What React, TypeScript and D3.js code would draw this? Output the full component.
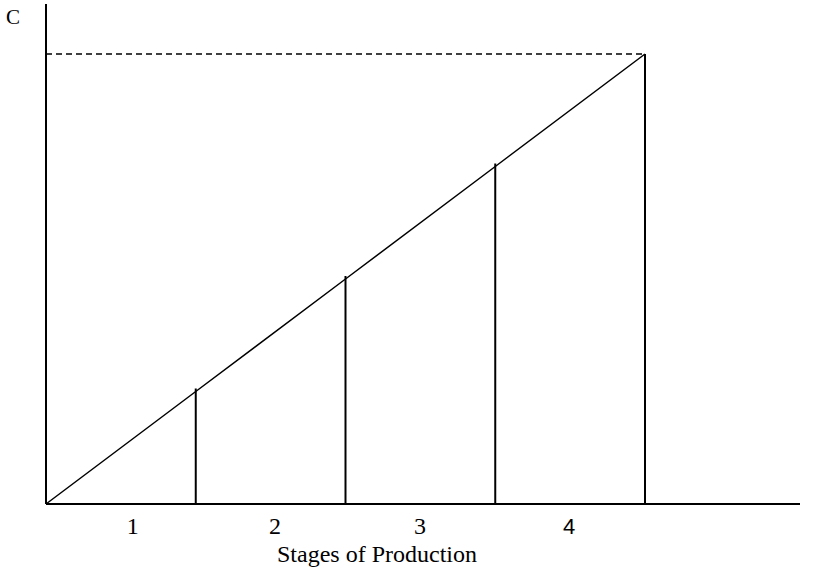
import React from "react";
import * as d3 from "d3";

const stageBoundaries = [0, 1, 2, 3, 4];
const cumulativeCost = [0, 1, 2, 3, 4];
const stageLabels = ["1", "2", "3", "4"];
const xLabel = "Stages of Production";
const yLabel = "C";

export default function App() {
  const W = 815, H = 574;
  const x = d3.scaleLinear().domain([0, 4]).range([46, 645]);
  const y = d3.scaleLinear().domain([0, 4]).range([504, 54]);
  const line = d3.line<number>().x((_, i) => x(stageBoundaries[i])).y((d) => y(d));
  const serif = "'Liberation Serif', 'Times New Roman', serif";
  const sans = "'Liberation Sans', Arial, sans-serif";
  return (
    <svg width={W} height={H} style={{ position: "absolute", left: 0, top: 0, background: "#fff" }}>
      {/* axes */}
      <line x1={x(0)} y1={4} x2={x(0)} y2={y(0)} stroke="#000" strokeWidth={2} />
      <line x1={x(0)} y1={y(0)} x2={800} y2={y(0)} stroke="#000" strokeWidth={2} />
      {/* dashed */}
      <line x1={x(0)} y1={y(4)} x2={x(4)} y2={y(4)} stroke="#000" strokeWidth={1.5} strokeDasharray="6,4" />
      {/* cumulative line */}
      <path d={line(cumulativeCost) || ""} fill="none" stroke="#000" strokeWidth={1.5} />
      {/* verticals */}
      {stageBoundaries.slice(1).map((b, i) => (
        <line key={b} x1={x(b)} y1={y(cumulativeCost[i + 1]) - (i < 3 ? 3 : 0)} x2={x(b)} y2={y(0)} stroke="#000" strokeWidth={2} />
      ))}
      {/* stage labels */}
      {stageLabels.map((l, i) => (
        <text key={l} x={[132.7, 275, 420, 569][i]} y={534} textAnchor="middle"
          fontFamily={i === 3 ? sans : serif} fontSize={i === 3 ? 22 : 24} fill="#000">{l}</text>
      ))}
      <text x={277} y={562} fontFamily={serif} fontSize={24} fill="#000">{xLabel}</text>
      <text x={6} y={24} fontFamily={serif} fontSize={21} fill="#000">{yLabel}</text>
    </svg>
  );
}
